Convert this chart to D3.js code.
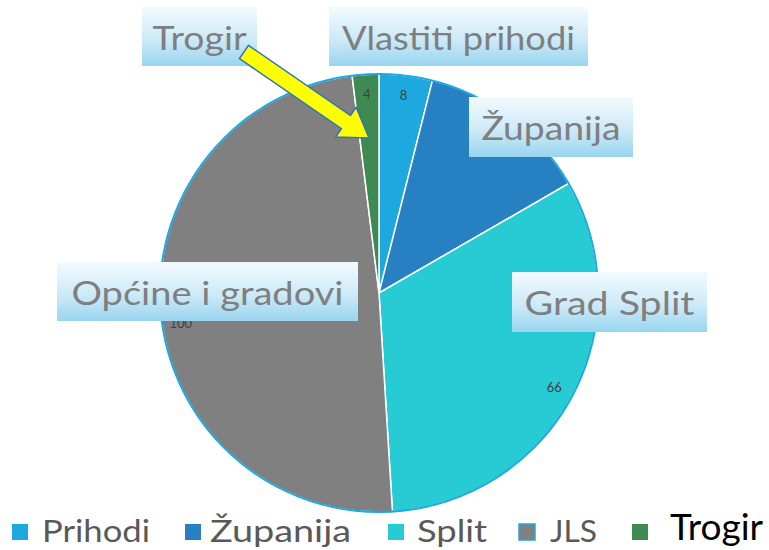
<!DOCTYPE html>
<html>
<head>
<meta charset="utf-8">
<script src="https://cdn.jsdelivr.net/npm/d3@7"></script>
<style>
  body { margin: 0; background: #fff; }
  svg { display: block; }
</style>
</head>
<body>
<script>
// data
var categories = ["Prihodi", "Županija", "Split", "JLS", "Trogir"];
var values = [8, 26, 66, 100, 4];
var calloutNames = ["Vlastiti prihodi", "Županija", "Grad Split", "Općine i gradovi", "Trogir"];
var colors = ["#1ea8e0", "#2680c2", "#27cbd4", "#808080", "#3f8a53"];

var width = 769, height = 550;
var cx = 379, cy = 293, radius = 219;

var svg = d3.select("body").append("svg")
    .attr("width", width)
    .attr("height", height);

var defs = svg.append("defs");
var grad = defs.append("linearGradient")
    .attr("id", "boxGrad")
    .attr("x1", 0).attr("y1", 0).attr("x2", 0).attr("y2", 1);
grad.append("stop").attr("offset", "0%").attr("stop-color", "#f2fafe");
grad.append("stop").attr("offset", "55%").attr("stop-color", "#cdeaf8");
grad.append("stop").attr("offset", "100%").attr("stop-color", "#98d5ef");

var color = d3.scaleOrdinal().domain(categories).range(colors);

var pie = d3.pie().sort(null).value(function(d) { return d.value; });
var data = categories.map(function(c, i) {
  return { name: c, value: values[i], callout: calloutNames[i] };
});
var arcs = pie(data);

var arc = d3.arc().innerRadius(0).outerRadius(radius);
var labelArc = d3.arc().innerRadius(199).outerRadius(199);

var g = svg.append("g").attr("transform", "translate(" + cx + "," + cy + ")");

g.selectAll(".slice")
  .data(arcs)
  .enter().append("path")
    .attr("class", "slice")
    .attr("d", arc)
    .attr("fill", function(d) { return color(d.data.name); })
    .attr("stroke", "#fff")
    .attr("stroke-width", 1.5);

// outer rim
g.append("circle")
    .attr("r", radius)
    .attr("fill", "none")
    .attr("stroke", "#1ea8e0")
    .attr("stroke-width", 2);

// value labels (some sit under the callout boxes, as in the original)
g.selectAll(".val")
  .data(arcs)
  .enter().append("text")
    .attr("class", "val")
    .attr("transform", function(d) {
      var c = labelArc.centroid(d);
      if (d.data.name === "JLS") c[1] += 12;
      return "translate(" + c + ")";
    })
    .attr("dy", "0.35em")
    .attr("text-anchor", "middle")
    .style("font", "13px 'Lato', sans-serif")
    .attr("fill", "#404040")
    .text(function(d) { return d.data.value; });

// callout boxes (layout only)
var boxes = [
  { name: "Prihodi",  x: 329, y: 7,   w: 259, h: 59, tw: 233 },
  { name: "Županija", x: 469, y: 97,  w: 164, h: 60, tw: 139 },
  { name: "Split",    x: 512, y: 272, w: 195, h: 60, tw: 170 },
  { name: "JLS",      x: 57,  y: 262, w: 301, h: 59, tw: 272 },
  { name: "Trogir",   x: 142, y: 7,   w: 115, h: 59, tw: 94 }
];

var callouts = svg.selectAll(".callout")
  .data(boxes)
  .enter().append("g")
    .attr("class", "callout");

callouts.append("rect")
    .attr("x", function(d) { return d.x; })
    .attr("y", function(d) { return d.y; })
    .attr("width", function(d) { return d.w; })
    .attr("height", function(d) { return d.h; })
    .attr("fill", "url(#boxGrad)");

callouts.append("text")
    .attr("x", function(d) { return d.x + d.w / 2; })
    .attr("y", function(d) { return d.y + 43; })
    .attr("text-anchor", "middle")
    .attr("textLength", function(d) { return d.tw; })
    .attr("lengthAdjust", "spacingAndGlyphs")
    .style("font", "32px 'Lato', sans-serif")
    .attr("fill", "#7f7f7f")
    .text(function(d) {
      return calloutNames[categories.indexOf(d.name)];
    });

// yellow arrow pointing at Trogir slice
var ax0 = 244, ay0 = 52, ax1 = 369, ay1 = 138;
var ang = Math.atan2(ay1 - ay0, ax1 - ax0) * 180 / Math.PI;
var len = Math.hypot(ax1 - ax0, ay1 - ay0);
var sw = 8, hw = 18, hl = 28;
svg.append("path")
    .attr("transform", "translate(" + ax0 + "," + ay0 + ") rotate(" + ang + ")")
    .attr("d", "M0," + (-sw) + "L" + (len - hl) + "," + (-sw) + "L" + (len - hl) + "," + (-hw) +
               "L" + len + ",0L" + (len - hl) + "," + hw + "L" + (len - hl) + "," + sw + "L0," + sw + "Z")
    .attr("fill", "#ffff00")
    .attr("stroke", "#2e75b6")
    .attr("stroke-width", 1.5)
    .attr("stroke-linejoin", "miter");

// legend
var legendPos = [
  { sx: 12,  tx: 42,  tw: 108 },
  { sx: 185, tx: 210, tw: 141 },
  { sx: 388, tx: 417, tw: 70 },
  { sx: 519, tx: 550, tw: 47 },
  { sx: 632, tx: 670, tw: 93 }
];

var legend = svg.selectAll(".legend")
  .data(categories)
  .enter().append("g")
    .attr("class", "legend");

legend.append("rect")
    .attr("x", function(d, i) { return legendPos[i].sx; })
    .attr("y", 524)
    .attr("width", 16)
    .attr("height", 16)
    .attr("fill", function(d) { return color(d); })
    .attr("stroke", function(d) { return d === "JLS" ? "#1ea8e0" : "none"; })
    .attr("stroke-width", 1.5);

legend.append("text")
    .attr("x", function(d, i) { return legendPos[i].tx; })
    .attr("y", function(d) { return d === "Trogir" ? 540 : 542; })
    .attr("textLength", function(d, i) { return legendPos[i].tw; })
    .attr("lengthAdjust", "spacingAndGlyphs")
    .style("font", function(d) { return d === "Trogir" ? "36px 'Lato', sans-serif" : "30px 'Lato', sans-serif"; })
    .attr("fill", function(d) { return d === "Trogir" ? "#000" : "#595959"; })
    .text(function(d) { return d; });
</script>
</body>
</html>
